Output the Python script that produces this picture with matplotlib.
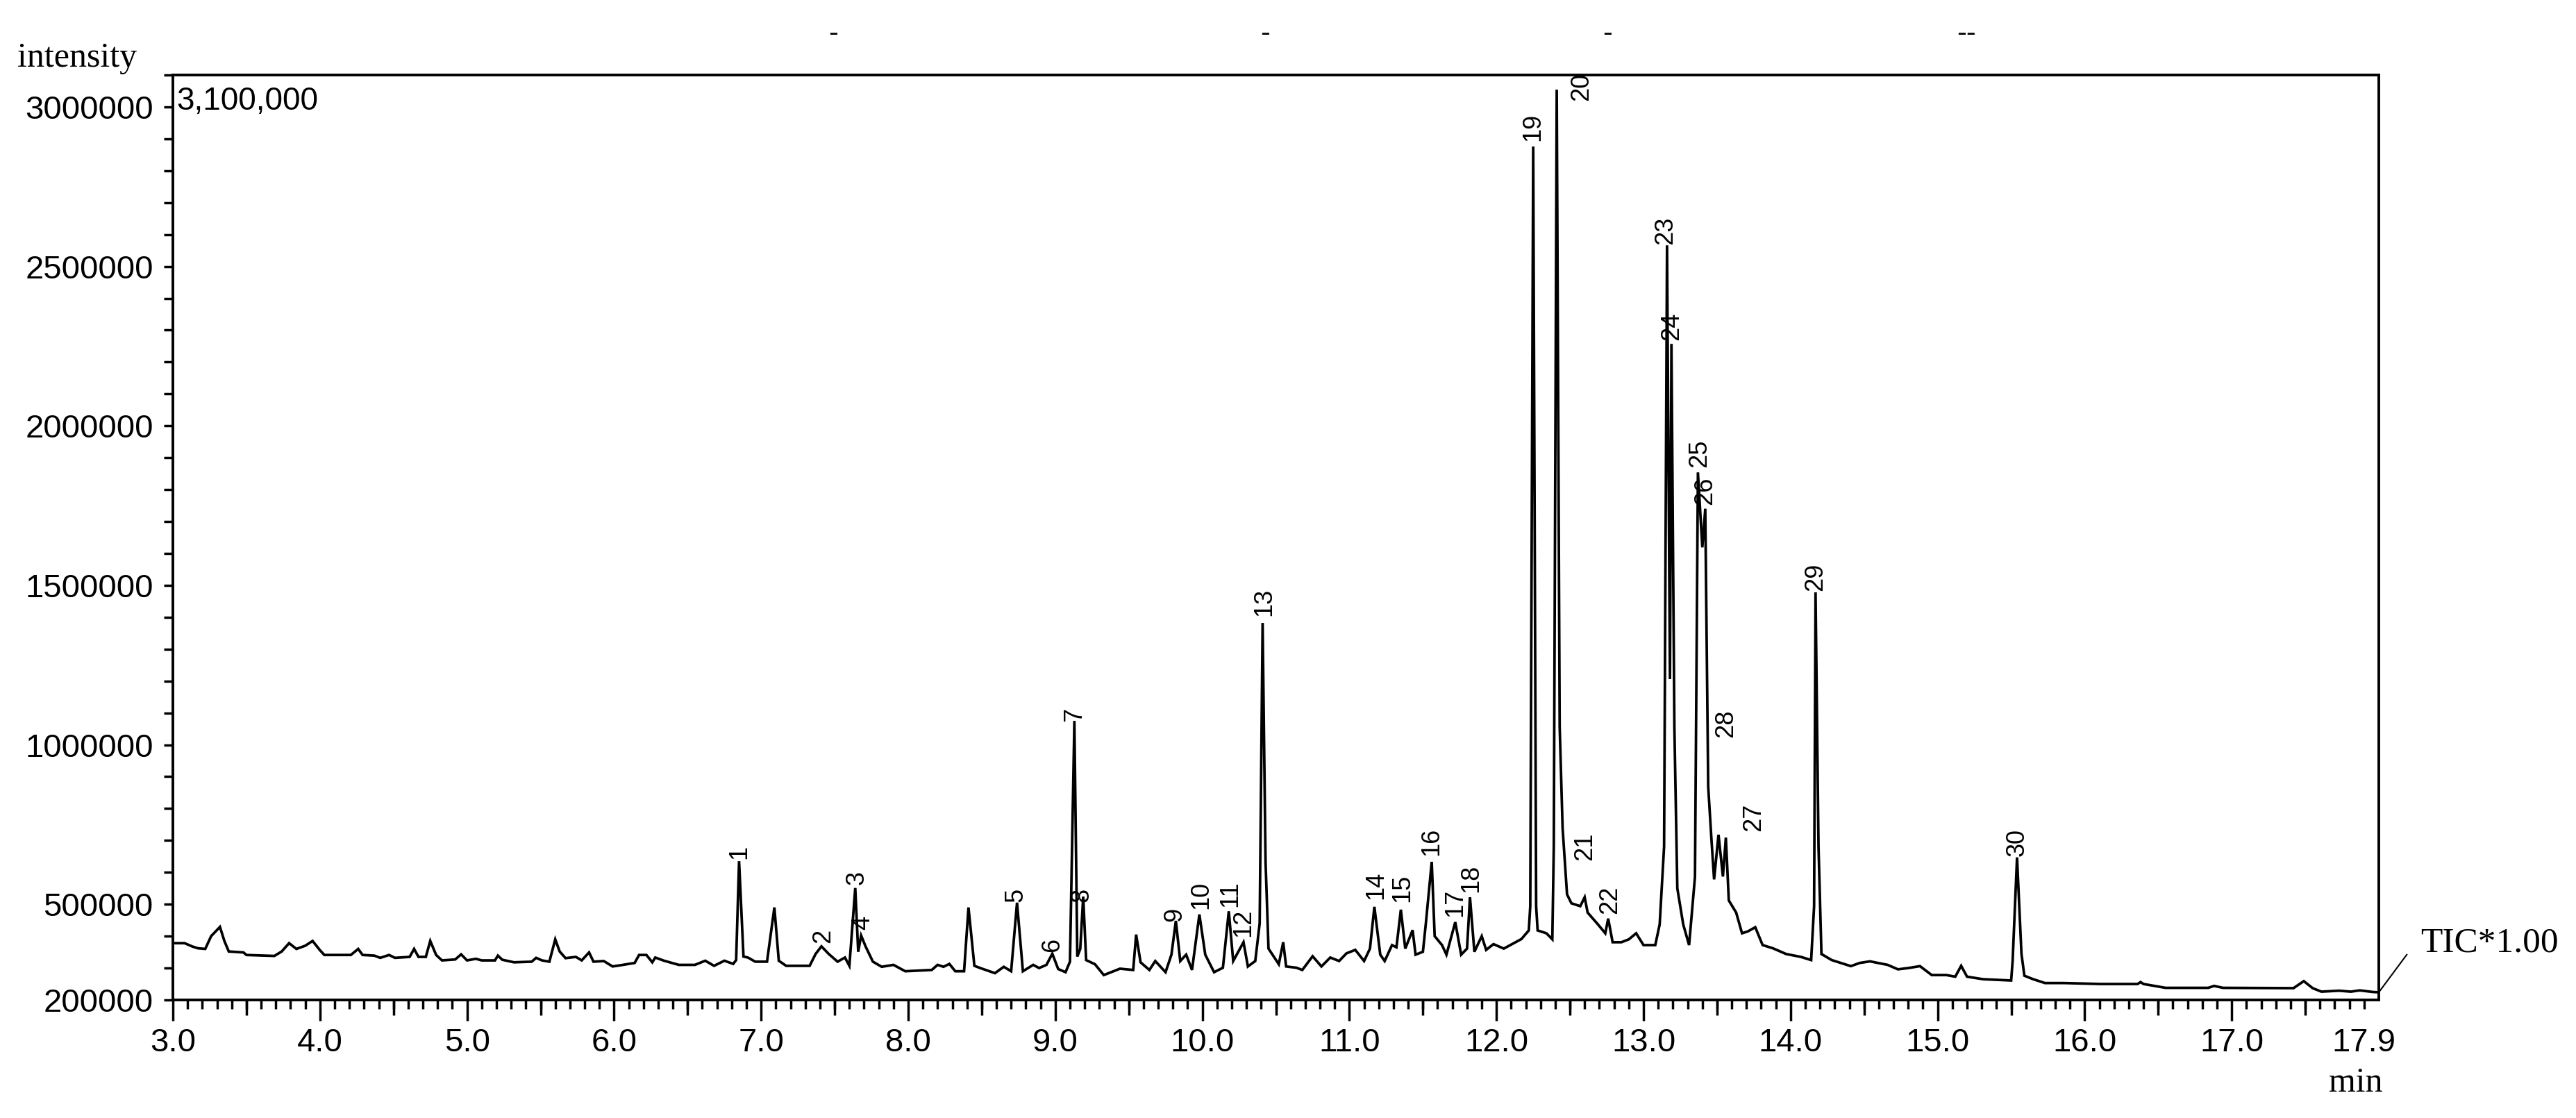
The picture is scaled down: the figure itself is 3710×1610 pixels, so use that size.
import matplotlib
matplotlib.use("Agg")
import matplotlib.pyplot as plt
import numpy as np

plt.rcParams['font.family'] = ['Liberation Sans', 'DejaVu Sans']

#----------------------------------------------------------------------------------------#
# TIC trace (time in min, intensity in thousands)

time_min = [3.00, 3.08, 3.13, 3.17, 3.22, 3.26, 3.32, 3.35, 3.38, 3.48, 3.50, 3.69, 3.74, 3.79,
            3.84, 3.90, 3.95, 4.00, 4.03, 4.21, 4.26, 4.29, 4.37, 4.41, 4.47, 4.51, 4.61, 4.64,
            4.67, 4.72, 4.75, 4.79, 4.83, 4.92, 4.96, 5.00, 5.06, 5.10, 5.19, 5.21, 5.24, 5.32,
            5.44, 5.47, 5.51, 5.56, 5.60, 5.63, 5.67, 5.74, 5.78, 5.83, 5.86, 5.93, 5.99, 6.06,
            6.14, 6.17, 6.22, 6.26, 6.28, 6.34, 6.44, 6.55, 6.62, 6.68, 6.75, 6.81, 6.83, 6.85,
            6.88, 6.91, 6.96, 7.04, 7.09, 7.12, 7.17, 7.33, 7.37, 7.41, 7.46, 7.52, 7.57, 7.60,
            7.64, 7.66, 7.68, 7.71, 7.76, 7.82, 7.90, 7.98, 8.16, 8.20, 8.24, 8.28, 8.32, 8.38,
            8.41, 8.45, 8.49, 8.59, 8.65, 8.70, 8.74, 8.78, 8.85, 8.89, 8.94, 8.98, 9.02, 9.07,
            9.10, 9.13, 9.15, 9.17, 9.19, 9.21, 9.27, 9.33, 9.44, 9.53, 9.55, 9.58, 9.64, 9.68,
            9.75, 9.79, 9.82, 9.85, 9.89, 9.93, 9.98, 10.02, 10.08, 10.14, 10.18, 10.21, 10.28,
            10.31, 10.36, 10.39, 10.41, 10.43, 10.45, 10.49, 10.52, 10.55, 10.57, 10.64, 10.68,
            10.75, 10.81, 10.87, 10.93, 10.98, 11.04, 11.10, 11.14, 11.17, 11.21, 11.24, 11.29,
            11.32, 11.35, 11.38, 11.43, 11.45, 11.50, 11.52, 11.56, 11.58, 11.63, 11.66, 11.72,
            11.76, 11.80, 11.82, 11.85, 11.90, 11.93, 11.98, 12.05, 12.11, 12.17, 12.22, 12.23,
            12.25, 12.27, 12.28, 12.34, 12.38, 12.39, 12.41, 12.43, 12.45, 12.48, 12.51, 12.57,
            12.60, 12.62, 12.69, 12.74, 12.76, 12.79, 12.85, 12.90, 12.95, 13.00, 13.08, 13.11,
            13.14, 13.16, 13.18, 13.19, 13.21, 13.23, 13.27, 13.31, 13.35, 13.37, 13.40, 13.42,
            13.44, 13.46, 13.48, 13.51, 13.54, 13.56, 13.58, 13.63, 13.67, 13.71, 13.76, 13.81,
            13.88, 13.97, 14.07, 14.14, 14.16, 14.17, 14.19, 14.21, 14.28, 14.41, 14.47, 14.54,
            14.66, 14.73, 14.80, 14.88, 14.96, 15.06, 15.12, 15.16, 15.20, 15.31, 15.50, 15.51,
            15.54, 15.57, 15.59, 15.65, 15.73, 15.86, 16.11, 16.36, 16.38, 16.40, 16.55, 16.84,
            16.88, 16.94, 17.42, 17.49, 17.55, 17.61, 17.73, 17.81, 17.87, 17.96, 18.00]

intensity_k = [378, 378, 368, 362, 360, 400, 429, 385, 352, 349, 341, 338, 352, 378,
               360, 370, 385, 356, 341, 341, 360, 341, 339, 332, 341, 332, 335, 360,
               335, 335, 385, 341, 324, 327, 343, 324, 329, 324, 324, 339, 326, 318,
               320, 332, 324, 320, 390, 352, 331, 335, 324, 349, 320, 322, 305, 310,
               316, 341, 341, 318, 333, 323, 310, 310, 323, 307, 323, 313, 325, 635,
               336, 333, 320, 320, 490, 323, 307, 307, 344, 368, 344, 320, 333, 307,
               551, 351, 402, 368, 320, 304, 310, 290, 294, 310, 304, 313, 290, 290,
               490, 307, 300, 284, 304, 290, 505, 290, 310, 300, 310, 345, 297, 287,
               320, 1075, 336, 360, 524, 325, 312, 278, 298, 294, 405, 318, 294, 322,
               287, 342, 448, 322, 342, 294, 468, 342, 287, 301, 478, 322, 381,
               305, 322, 440, 1382, 633, 361, 333, 312, 381, 305, 301, 294,
               337, 305, 333, 322, 346, 357, 322, 361, 492, 342, 322, 372,
               365, 483, 361, 419, 342, 351, 440, 633, 400, 372, 342, 444,
               342, 361, 522, 351, 400, 357, 375, 361, 376, 391, 418, 494,
               2876, 494, 418, 409, 390, 681, 3054, 1056, 738, 531, 503, 494,
               522, 474, 437, 409, 455, 381, 381, 390, 409, 372, 372, 437,
               681, 2566, 1206, 2257, 1056, 550, 437, 372, 586, 1854, 1619, 1740,
               869, 718, 578, 718, 587, 709, 512, 474, 409, 415, 428, 372,
               362, 344, 335, 325, 494, 1478, 681, 344, 325, 306, 316, 321,
               310, 296, 300, 306, 278, 278, 273, 307, 273, 265, 261, 322,
               647, 345, 276, 265, 253, 253, 250, 250, 256, 250, 238, 238,
               244, 238, 237, 259, 237, 226, 229, 226, 230, 225, 224]

# peak numbers and where their labels sit (time, intensity in thousands)
peak_names = [str(i) for i in range(1, 31)]
label_time = [6.85, 7.42, 7.65, 7.69, 8.73, 8.98, 9.13, 9.18, 9.81, 9.99,
              10.19, 10.28, 10.42, 11.18, 11.36, 11.56, 11.72, 11.83, 12.25, 12.58,
              12.60, 12.77, 13.15, 13.19, 13.38, 13.42, 13.75, 13.56, 14.17, 15.54]
label_int_k = [636, 372, 556, 414, 502, 345, 1068, 502, 441, 480,
               485, 393, 1397, 509, 500, 646, 456, 532, 2887, 3014,
               632, 463, 2563, 2262, 1864, 1747, 724, 1016, 1476, 644]

x_major = [3, 4, 5, 6, 7, 8, 9, 10, 11, 12, 13, 14, 15, 16, 17, 17.9]
x_major_labels = ['3.0', '4.0', '5.0', '6.0', '7.0', '8.0', '9.0', '10.0', '11.0', '12.0',
                  '13.0', '14.0', '15.0', '16.0', '17.0', '17.9']
y_major = [200000, 500000, 1000000, 1500000, 2000000, 2500000, 3000000]

#----------------------------------------------------------------------------------------#

fig = plt.figure(figsize=(37.1, 16.1), dpi=100)
ax = fig.add_axes([249 / 3710, 1 - 1440 / 1610, (3426 - 249) / 3710, (1440 - 108) / 1610])

t = np.array(time_min)
y = np.array(intensity_k) * 1000.0
ax.plot(t, y, color='black', lw=2.7, solid_joinstyle='miter')

for name, lt, lv in zip(peak_names, label_time, label_int_k):
    ax.annotate(name, (lt, lv * 1000.0), xytext=(0, 2), textcoords='offset points',
                rotation=90, ha='center', va='bottom', fontsize=26, annotation_clip=False)

ax.set_xlim(3.0, 18.0)
ax.set_ylim(200000, 3100000)

ax.set_xticks(x_major)
ax.set_xticklabels(x_major_labels)
ax.set_xticks(np.round(np.arange(30, 180) / 10.0, 1), minor=True)
ax.set_yticks(y_major)
ax.set_yticklabels([str(v) for v in y_major])
ax.set_yticks(np.arange(300000, 3100001, 100000), minor=True)

ax.tick_params(axis='x', which='major', length=21.6, width=2.5, pad=7, labelsize=34)
ax.tick_params(axis='x', which='minor', length=9.4, width=2.5)
ax.tick_params(axis='y', which='both', length=9.4, width=2.5, pad=11, labelsize=34)
ax.xaxis.get_major_ticks()[-1].tick1line.set_markersize(9.4)

# half-minute ticks
sec = ax.secondary_xaxis('bottom')
sec.set_xticks(np.arange(3.5, 18.0, 1.0))
sec.tick_params(axis='x', which='major', length=15.8, width=2.5, labelbottom=False)
sec.tick_params(axis='x', which='minor', length=0)
sec.spines['bottom'].set_visible(False)

for s in ax.spines.values():
    s.set_linewidth(2.8)

# TIC leader line
ax.plot([18.0, 18.19], [224000, 342000], color='black', lw=1.5, clip_on=False)

fig.text(25 / 3710, 1 - 96 / 1610, 'intensity', fontsize=36, family='Liberation Serif',
         va='baseline', ha='left')
fig.text(254 / 3710, 1 - 158 / 1610, '3,100,000', fontsize=33, va='baseline', ha='left')
fig.text(3486 / 3710, 1 - 1370 / 1610, 'TIC*1.00', fontsize=37, family='Liberation Serif',
         va='baseline', ha='left')
fig.text(3432 / 3710, 1 - 1572 / 1610, 'min', fontsize=36, family='Liberation Serif',
         va='baseline', ha='right')
for xd, s in [(1200, '-'), (1822, '-'), (2315, '-'), (2832, '--')]:
    fig.text(xd / 3710, 1 - 49 / 1610, s, fontsize=30, va='center', ha='center')

plt.savefig("out.png", dpi=100)
